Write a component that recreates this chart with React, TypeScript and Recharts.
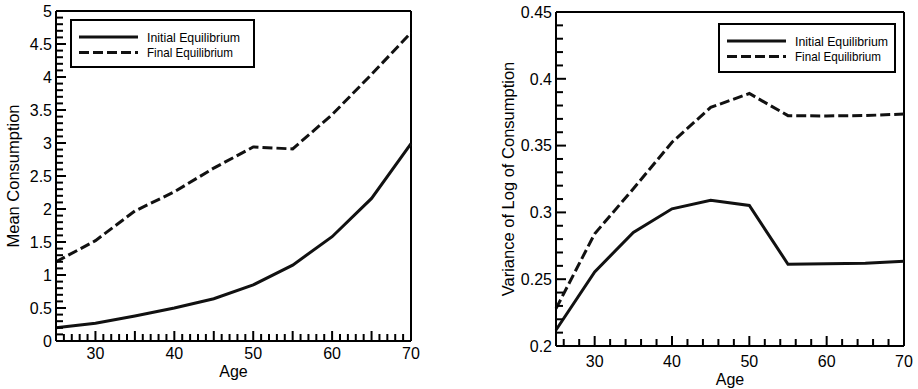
import React from "react"
import { LineChart, Line, XAxis, YAxis, ReferenceLine, Legend } from "recharts"

const FONT = '"Liberation Sans", Arial, Helvetica, sans-serif'
const INK = "#111"

// ages on the x axis (both panels)
const ages = [25, 30, 35, 40, 45, 50, 55, 60, 65, 70]

// left panel: mean consumption
const meanInitial = [0.2, 0.27, 0.38, 0.5, 0.64, 0.85, 1.15, 1.58, 2.16, 2.99]
const meanFinal = [1.2, 1.52, 1.97, 2.26, 2.62, 2.94, 2.91, 3.43, 4.04, 4.67]

// right panel: variance of log of consumption
const varInitial = [0.212, 0.2555, 0.285, 0.3027, 0.309, 0.3052, 0.2612, 0.2615, 0.262, 0.2634]
const varFinal = [0.228, 0.284, 0.3177, 0.3525, 0.3786, 0.389, 0.3724, 0.3722, 0.3725, 0.3736]

// labelled ticks
const ageLabels = [30, 40, 50, 60, 70]
const meanLabels = [0, 0.5, 1, 1.5, 2, 2.5, 3, 3.5, 4, 4.5, 5]
const varLabels = [0.2, 0.25, 0.3, 0.35, 0.4, 0.45]

const seriesNames = ["Initial Equilibrium", "Final Equilibrium"]
const DASH = "10 4"

const steps = (start: number, end: number, step: number) =>
  Array.from({ length: Math.round((end - start) / step) + 1 }, (_, i) => Math.round((start + i * step) * 1000) / 1000)

const isMultiple = (v: number, step: number) => Math.abs(v / step - Math.round(v / step)) < 1e-6
const hasLabel = (v: number, labels: number[]) => labels.some((l) => Math.abs(l - v) < 1e-6)
const fmt = (v: number) => String(Math.round(v * 1000) / 1000)

const meanData = ages.map((age, i) => ({ age, initial: meanInitial[i], final: meanFinal[i] }))
const varData = ages.map((age, i) => ({ age, initial: varInitial[i], final: varFinal[i] }))

// inward ticks, long on majors, with labels only where the figure has them
function xTick(majorStep: number, labels: number[], labelDy: number) {
  return (p: any) => {
    const v = p.payload.value
    const len = isMultiple(v, majorStep) ? 10 : 7
    const x = Number(p.x)
    const y = Number(p.y)
    return (
      <g>
        <path d={`M${x},${y}V${y - len}`} stroke="#000" strokeWidth={2} fill="none" />
        {hasLabel(v, labels) && (
          <text x={x} y={y + labelDy} textAnchor="middle" fontSize={16} fontFamily={FONT} fill="#000">
            {fmt(v)}
          </text>
        )}
      </g>
    )
  }
}

function yTick(labels: number[]) {
  return (p: any) => {
    const v = p.payload.value
    const major = hasLabel(v, labels)
    const x = Number(p.x)
    const y = Number(p.y)
    return (
      <g>
        <path d={`M${x},${y}H${x + (major ? 10 : 7)}`} stroke="#000" strokeWidth={2} fill="none" />
        {major && (
          <text x={x - 4} y={y} dy="0.36em" textAnchor="end" fontSize={16} fontFamily={FONT} fill="#000">
            {fmt(v)}
          </text>
        )}
      </g>
    )
  }
}

function yTitle(text: string, offset: number) {
  return (p: any) => {
    const vb = p.viewBox
    const cx = vb.x + offset
    const cy = vb.y + vb.height / 2
    return (
      <text x={cx} y={cy} transform={`rotate(-90 ${cx} ${cy})`} textAnchor="middle" fontSize={16.5} fontFamily={FONT} fill="#000">
        {text}
      </text>
    )
  }
}

function xTitle(text: string, baseline: number) {
  return (p: any) => {
    const vb = p.viewBox
    return (
      <text x={vb.x + vb.width / 2} y={vb.y + baseline} textAnchor="middle" fontSize={16} fontFamily={FONT} fill="#000">
        {text}
      </text>
    )
  }
}

function LegendBox({ width, height }: { width: number; height: number }) {
  return (
    <svg width={width} height={height} style={{ display: "block" }}>
      <rect x={1} y={1} width={width - 2} height={height - 2} fill="#fff" stroke="#000" strokeWidth={2} />
      {seriesNames.map((name, i) => (
        <g key={name}>
          <line x1={9} x2={68} y1={18 + i * 15.5} y2={18 + i * 15.5} stroke={INK} strokeWidth={3} strokeDasharray={i === 1 ? DASH : undefined} />
          <text x={77} y={22.5 + i * 15.5} fontSize={13} fontFamily={FONT} fill="#000" textLength={i === 0 ? 93 : 86} lengthAdjust="spacingAndGlyphs">
            {name}
          </text>
        </g>
      ))}
    </svg>
  )
}

export default function App() {
  return (
    <div style={{ position: "absolute", left: 0, top: 0, width: 918, height: 389, background: "#fff", overflow: "hidden" }}>
      {/* Left: Mean Consumption */}
      <div style={{ position: "absolute", left: 0, top: 0 }}>
        <LineChart width={460} height={389} data={meanData} margin={{ top: 11, right: 49, bottom: 0, left: 0 }}>
          <XAxis
            dataKey="age"
            type="number"
            domain={[25, 70]}
            ticks={steps(25, 70, 1)}
            interval={0}
            height={48}
            tickSize={0}
            tickMargin={0}
            tickLine={false}
            tick={xTick(5, ageLabels, 18)}
            axisLine={{ stroke: "#000", strokeWidth: 2 }}
            label={xTitle("Age", 36)}
          />
          <YAxis
            type="number"
            domain={[0, 5]}
            ticks={steps(0, 5, 0.1)}
            interval={0}
            width={56}
            tickSize={0}
            tickMargin={0}
            tickLine={false}
            tick={yTick(meanLabels)}
            axisLine={{ stroke: "#000", strokeWidth: 2 }}
            label={yTitle("Mean Consumption", 19)}
          />
          <ReferenceLine x={70} stroke="#000" strokeWidth={2} />
          <ReferenceLine y={5} stroke="#000" strokeWidth={2} />
          <Legend
            layout="vertical"
            align="center"
            verticalAlign="middle"
            wrapperStyle={{ left: 70, top: 19, width: 185, height: 49 }}
            content={() => <LegendBox width={185} height={49} />}
          />
          <Line type="linear" dataKey="initial" name={seriesNames[0]} stroke={INK} strokeWidth={3} dot={false} isAnimationActive={false} />
          <Line type="linear" dataKey="final" name={seriesNames[1]} stroke={INK} strokeWidth={3} strokeDasharray={DASH} dot={false} isAnimationActive={false} />
        </LineChart>
      </div>

      {/* Right: Variance of Log of Consumption */}
      <div style={{ position: "absolute", left: 460, top: 0 }}>
        <LineChart width={458} height={389} data={varData} margin={{ top: 12, right: 14, bottom: 0, left: 0 }}>
          <XAxis
            dataKey="age"
            type="number"
            domain={[25, 70]}
            ticks={steps(26, 70, 2)}
            interval={0}
            height={43}
            tickSize={0}
            tickMargin={0}
            tickLine={false}
            tick={xTick(10, ageLabels, 21)}
            axisLine={{ stroke: "#000", strokeWidth: 2 }}
            label={xTitle("Age", 39)}
          />
          <YAxis
            type="number"
            domain={[0.2, 0.45]}
            ticks={steps(0.2, 0.45, 0.01)}
            interval={0}
            width={96}
            tickSize={0}
            tickMargin={0}
            tickLine={false}
            tick={yTick(varLabels)}
            axisLine={{ stroke: "#000", strokeWidth: 2 }}
            label={yTitle("Variance of Log of Consumption", 54)}
          />
          <ReferenceLine x={70} stroke="#000" strokeWidth={2} />
          <ReferenceLine y={0.45} stroke="#000" strokeWidth={2} />
          <Legend
            layout="vertical"
            align="center"
            verticalAlign="middle"
            wrapperStyle={{ left: 258, top: 23, width: 178, height: 50 }}
            content={() => <LegendBox width={178} height={50} />}
          />
          <Line type="linear" dataKey="initial" name={seriesNames[0]} stroke={INK} strokeWidth={3} dot={false} isAnimationActive={false} />
          <Line type="linear" dataKey="final" name={seriesNames[1]} stroke={INK} strokeWidth={3} strokeDasharray={DASH} dot={false} isAnimationActive={false} />
        </LineChart>
      </div>
    </div>
  )
}
